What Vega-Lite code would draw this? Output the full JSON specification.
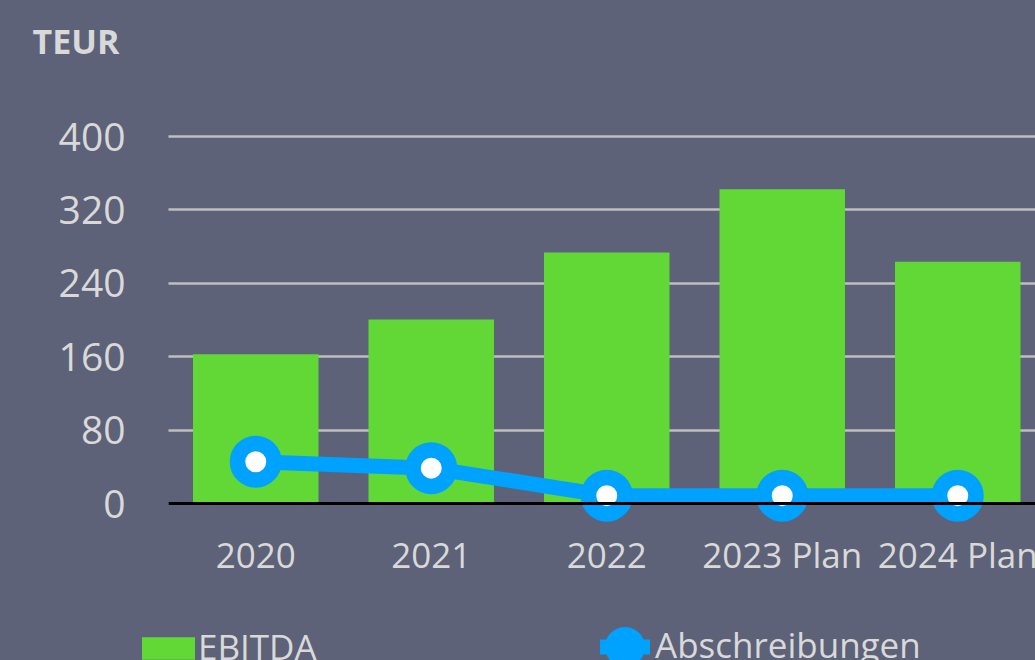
{
  "$schema": "https://vega.github.io/schema/vega-lite/v6.json",
  "width": 867,
  "height": 367,
  "autosize": {"type": "none"},
  "padding": {"left": 168, "top": 136, "right": 0, "bottom": 157},
  "background": "#5d6278",
  "config": {"view": {"stroke": null}, "font": "Open Sans"},
  "data": {
    "values": [
      {"year": "2020", "series": "EBITDA", "value": 162},
      {"year": "2021", "series": "EBITDA", "value": 200},
      {"year": "2022", "series": "EBITDA", "value": 273},
      {"year": "2023 Plan", "series": "EBITDA", "value": 342},
      {"year": "2024 Plan", "series": "EBITDA", "value": 263},
      {"year": "2020", "series": "Abschreibungen", "value": 45},
      {"year": "2021", "series": "Abschreibungen", "value": 38},
      {"year": "2022", "series": "Abschreibungen", "value": 8},
      {"year": "2023 Plan", "series": "Abschreibungen", "value": 8},
      {"year": "2024 Plan", "series": "Abschreibungen", "value": 8}
    ]
  },
  "encoding": {
    "x": {
      "field": "year",
      "type": "ordinal",
      "sort": null,
      "scale": {"range": [0, 877.5], "paddingInner": 0.285, "paddingOuter": 0.1425},
      "axis": {
        "title": null,
        "labelAngle": 0,
        "labelFontSize": 35,
        "labelColor": "#d9d9d9",
        "labelBaseline": "alphabetic",
        "labelPadding": 64,
        "labelLimit": 0,
        "ticks": false,
        "domainColor": "#000000",
        "domainWidth": 3,
        "zindex": 1
      }
    },
    "y": {
      "field": "value",
      "type": "quantitative",
      "scale": {"domain": [0, 400], "nice": false},
      "axis": {
        "values": [0, 80, 160, 240, 320, 400],
        "grid": true,
        "gridColor": "#bfbfbf",
        "gridWidth": 2.5,
        "domain": false,
        "ticks": false,
        "labelFontSize": 39,
        "labelColor": "#d9d9d9",
        "labelPadding": 43,
        "labelBaseline": "alphabetic",
        "labelOffset": 14,
        "title": "TEUR",
        "titleAngle": 0,
        "titleX": -136,
        "titleY": -83,
        "titleAlign": "left",
        "titleBaseline": "alphabetic",
        "titleFontSize": 34,
        "titleFontWeight": "bold",
        "titleColor": "#d9d9d9"
      }
    }
  },
  "layer": [
    {
      "transform": [{"filter": "datum.series === 'EBITDA'"}],
      "mark": {"type": "bar"},
      "encoding": {
        "fill": {
          "field": "series",
          "type": "nominal",
          "scale": {"domain": ["EBITDA"], "range": ["#61d836"]},
          "legend": {
            "orient": "none",
            "legendX": -26,
            "legendY": 486,
            "title": null,
            "padding": 0,
            "symbolType": "M-1,-0.42H1V0.42H-1Z",
            "symbolSize": 2809,
            "symbolStrokeWidth": 0,
            "labelFontSize": 35,
            "labelColor": "#d9d9d9",
            "labelOffset": 3,
            "labelLimit": 0
          }
        }
      }
    },
    {
      "transform": [{"filter": "datum.series === 'Abschreibungen'"}],
      "mark": {"type": "line", "strokeWidth": 15},
      "encoding": {
        "stroke": {
          "field": "series",
          "type": "nominal",
          "scale": {"domain": ["Abschreibungen"], "range": ["#00a2ff"]},
          "legend": {
            "orient": "none",
            "legendX": 432,
            "legendY": 486,
            "title": null,
            "padding": 0,
            "symbolType": "M-1,-0.3H-0.7416A0.8,0.8 0 0 1 0.7416,-0.3H1V0.3H0.7416A0.8,0.8 0 0 1 -0.7416,0.3H-1Z",
            "symbolSize": 2500,
            "symbolStrokeWidth": 0,
            "labelFontSize": 35,
            "labelColor": "#d9d9d9",
            "labelOffset": 5,
            "labelLimit": 0,
            "encode": {"symbols": {"update": {"fill": {"value": "#00a2ff"}, "stroke": {"value": "#00a2ff"}, "opacity": {"value": 1}}}}
          }
        }
      }
    },
    {
      "transform": [{"filter": "datum.series === 'Abschreibungen'"}],
      "mark": {"type": "point", "shape": "circle", "filled": true, "fill": "#ffffff", "stroke": "#00a2ff", "strokeWidth": 15.5, "size": 1332, "opacity": 1}
    }
  ]
}
